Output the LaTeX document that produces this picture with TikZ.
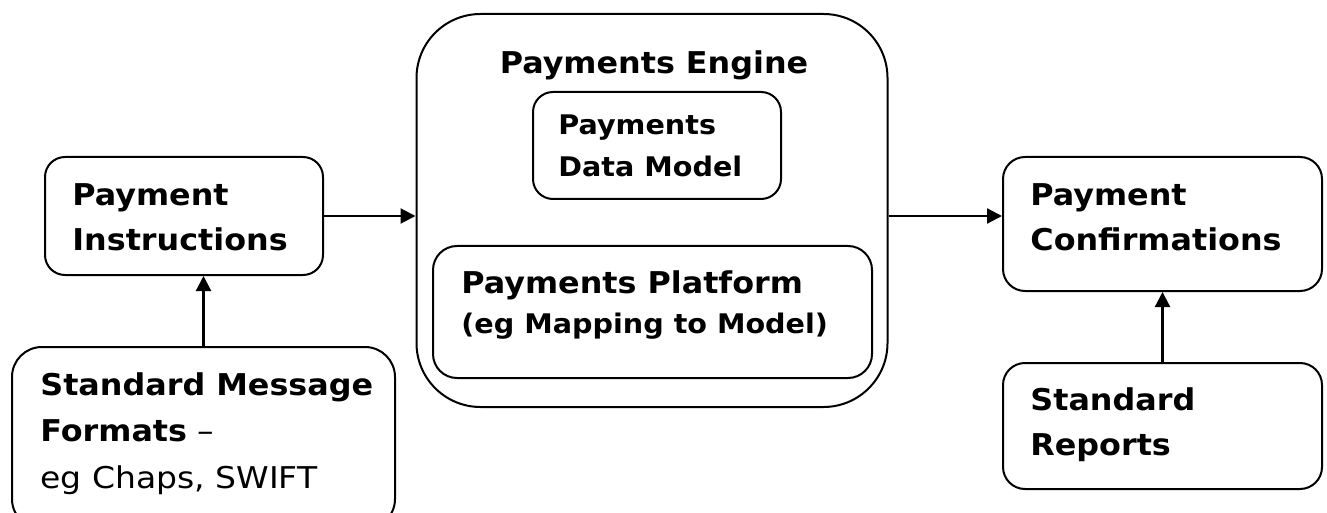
\documentclass[tikz,border=0pt]{standalone}
\usepackage{fontspec}
\setmainfont{DejaVu Sans}[FakeStretch=1.1, BoldFeatures={FakeStretch=1.06}]
\usetikzlibrary{arrows.meta}
\begin{document}
\begin{tikzpicture}[x={(0.5pt,0pt)}, y={(0pt,-0.5pt)},
    box/.style={draw, line width=1pt, inner sep=0pt},
    lbl/.style={anchor=base west, align=left, inner sep=0pt, font=\bfseries\fontsize{15}{22.5}\selectfont},
    flow/.style={-{Triangle[length=7.5pt,width=7.5pt]}, line width=1.1pt}]
    \clip (0,0) rectangle (1327,513);

    % Left side: inputs (labels placed by their last baseline)
    \node[box, rounded corners=10pt, minimum width=139pt, minimum height=59pt] (instr) at (184,216) {};
    \node[lbl] (instrtxt) at (72,250) {Payment\\Instructions};
    \node[box, rounded corners=15pt, minimum width=191.5pt, minimum height=91pt] (formats) at (203.5,438) {};
    \node[lbl, font=\fontsize{15}{23.2}\selectfont] (formatstxt) at (40,488)
        {\textbf{Standard Message}\\\textbf{Formats} --\\eg Chaps, SWIFT};

    % Middle: the engine and its parts
    \node[box, rounded corners=32pt, minimum width=235.5pt, minimum height=196.5pt] (engine) at (652,210.5) {};
    \node[lbl, anchor=base] (enginetxt) at (654,74) {Payments Engine};
    \node[box, rounded corners=10pt, minimum width=124pt, minimum height=53.5pt] (model) at (657,145.5) {};
    \node[lbl, font=\bfseries\fontsize{13.5}{21}\selectfont] (modeltxt) at (558,177) {Payments\\Data Model};
    \node[box, rounded corners=12pt, minimum width=219.5pt, minimum height=66pt] (platform) at (652.5,312) {};
    \node[lbl, font=\bfseries\fontsize{15}{20}\selectfont] (platformtxt) at (461,333)
        {Payments Platform\\{\fontsize{13.5}{20}\selectfont(eg Mapping to Model)}};

    % Right side: outputs
    \node[box, rounded corners=11pt, minimum width=159.5pt, minimum height=67pt] (confirm) at (1162.5,224) {};
    \node[lbl] (confirmtxt) at (1030,250) {Payment\\Confirmations};
    \node[box, rounded corners=11pt, minimum width=159.5pt, minimum height=63pt] (reports) at (1162.5,426) {};
    \node[lbl] (reportstxt) at (1030,455) {Standard\\Reports};

    % Connectors
    \draw[flow] (instr.east) -- (instr.east -| engine.west);
    \draw[flow] (engine.east |- instr.east) -- (confirm.west |- instr.east);
    \draw[flow] (formats.north) -- (formats.north |- instr.south);
    \draw[flow] (reports.north) -- (confirm.south);
\end{tikzpicture}
\end{document}
